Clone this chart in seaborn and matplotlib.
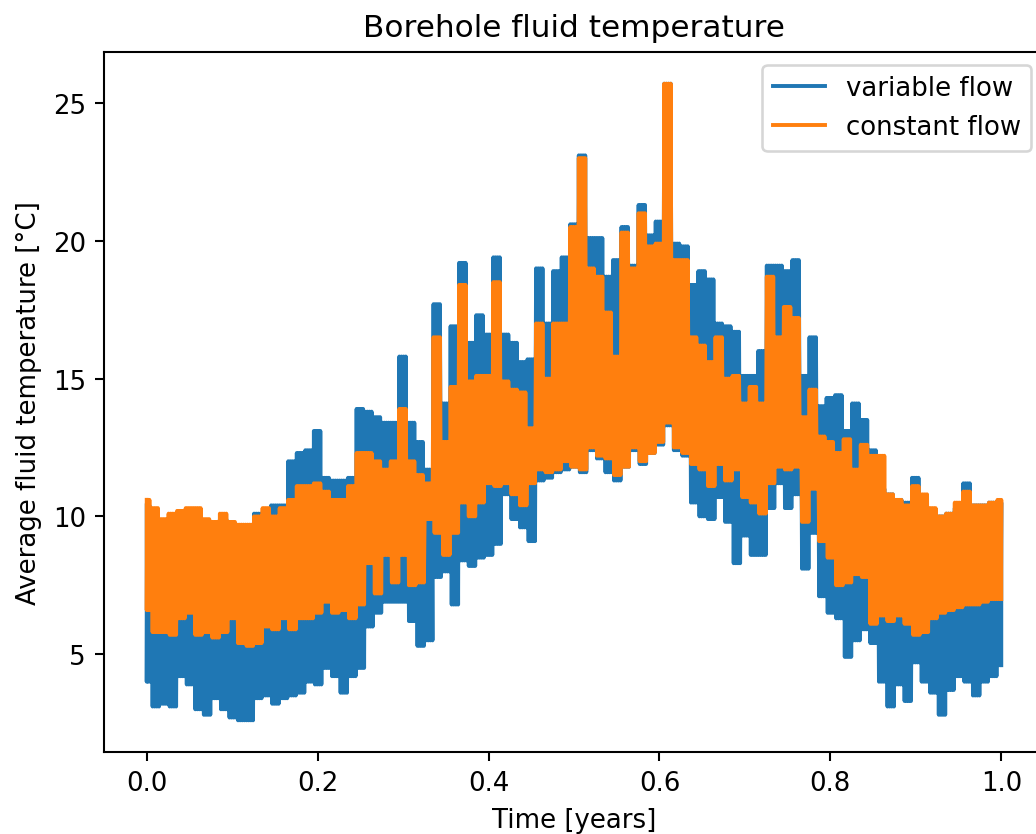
import numpy as np
import pandas as pd
import matplotlib
matplotlib.use("Agg")
import matplotlib.pyplot as plt
import seaborn as sns

# readings every 0.01 year: upper / lower envelope of the daily swing
time = np.round(np.arange(0, 1.001, 0.01), 2)
DAYS_PER_BIN = 4  # roughly 3.65 daily cycles fit in 0.01 year

variable_top = [
    10.4, 10.0, 9.6, 9.9, 9.9, 10.0, 10.0, 9.6, 9.6, 9.9,
    9.5, 9.4, 9.5, 10.1, 10.0, 10.4, 10.4, 12.0, 12.3, 12.4,
    13.1, 11.4, 11.3, 11.3, 11.4, 13.9, 13.8, 13.6, 13.4, 13.4,
    15.8, 13.4, 12.7, 11.7, 17.7, 14.1, 16.9, 19.2, 16.3, 17.3,
    16.6, 19.4, 16.6, 16.3, 15.6, 15.7, 19.0, 17.0, 18.9, 19.4,
    20.6, 23.1, 20.1, 20.1, 18.7, 19.3, 20.5, 19.1, 21.3, 20.2,
    20.7, 25.7, 19.9, 19.8, 18.4, 18.9, 18.6, 17.0, 16.9, 16.7,
    15.1, 15.1, 16.0, 19.1, 19.1, 18.9, 19.3, 15.1, 16.5, 14.0,
    14.3, 14.4, 13.1, 14.1, 13.5, 12.4, 11.0, 10.8, 10.6, 10.5,
    11.4, 10.4, 10.1, 10.0, 10.1, 10.3, 11.2, 10.4, 10.4, 10.5,
    10.5,
]
variable_bottom = [
    4.0, 3.1, 3.2, 3.1, 4.2, 3.9, 3.0, 2.8, 3.4, 3.0,
    2.7, 2.6, 2.6, 3.4, 3.5, 3.2, 3.4, 3.5, 3.6, 4.0,
    3.9, 4.5, 4.2, 3.6, 4.2, 4.5, 6.0, 6.5, 6.9, 6.9,
    6.9, 6.2, 5.3, 5.5, 7.8, 8.0, 6.8, 8.4, 8.2, 8.5,
    8.6, 9.0, 10.8, 9.9, 9.6, 9.1, 11.3, 11.4, 11.6, 11.7,
    11.8, 11.6, 12.4, 12.1, 11.6, 11.3, 11.8, 12.4, 11.9, 12.3,
    12.6, 13.3, 12.4, 12.2, 10.5, 10.0, 9.9, 10.7, 9.8, 8.3,
    9.3, 8.6, 8.6, 10.3, 11.2, 10.3, 10.8, 8.1, 9.4, 7.1,
    6.5, 6.3, 4.9, 5.5, 5.9, 5.4, 4.0, 3.1, 3.9, 3.3,
    4.7, 4.0, 3.6, 2.8, 3.7, 4.2, 4.0, 3.5, 4.0, 4.2,
    4.6,
]
constant_top = [
    10.6, 10.3, 9.9, 10.1, 10.2, 10.3, 10.3, 9.9, 9.8, 10.1,
    9.8, 9.7, 9.7, 10.0, 10.3, 10.0, 10.3, 10.6, 11.1, 11.1,
    11.2, 10.9, 10.6, 10.6, 11.1, 12.3, 12.3, 12.0, 11.7, 12.0,
    13.9, 12.0, 11.5, 11.2, 16.5, 12.7, 14.7, 18.4, 14.9, 15.1,
    15.1, 18.5, 14.9, 14.6, 14.5, 13.2, 17.0, 15.0, 17.0, 17.0,
    20.5, 23.0, 19.0, 18.7, 17.4, 15.8, 20.3, 19.0, 21.0, 19.8,
    19.9, 25.7, 19.3, 19.3, 16.5, 16.2, 15.6, 16.5, 15.0, 15.1,
    14.1, 14.7, 14.1, 18.7, 16.5, 17.6, 17.2, 13.6, 14.6, 12.9,
    12.7, 12.3, 12.8, 11.7, 12.6, 12.2, 12.2, 10.8, 10.6, 10.4,
    11.1, 10.8, 10.3, 10.0, 10.1, 10.5, 10.9, 10.4, 10.4, 10.5,
    10.6,
]
constant_bottom = [
    6.6, 5.8, 5.8, 5.7, 6.3, 6.5, 5.7, 5.8, 5.6, 5.8,
    6.3, 5.4, 5.3, 5.4, 6.0, 5.9, 6.3, 5.9, 6.3, 6.3,
    6.5, 6.9, 6.5, 6.6, 6.3, 6.8, 8.3, 7.2, 8.6, 7.6,
    8.6, 7.5, 7.6, 9.9, 9.4, 8.6, 9.4, 10.5, 10.0, 10.5,
    11.2, 11.1, 11.2, 10.8, 10.4, 11.2, 11.7, 11.6, 11.7, 12.0,
    11.8, 11.7, 12.5, 12.2, 12.1, 11.5, 11.8, 12.5, 12.0, 12.3,
    12.7, 13.4, 12.5, 12.3, 11.9, 11.7, 11.1, 11.9, 11.3, 11.7,
    10.7, 10.5, 10.1, 11.2, 11.8, 11.7, 11.8, 9.8, 11.0, 9.1,
    8.5, 7.5, 7.6, 7.9, 7.8, 6.1, 6.4, 6.2, 6.4, 6.1,
    5.7, 5.8, 6.3, 6.5, 6.6, 6.7, 6.8, 6.8, 6.9, 7.0,
    7.0,
]


def swing(top, bottom):
    # each 0.01-year bin holds a few daily cycles between its high and low
    n = DAYS_PER_BIN
    step = 0.01 / (2 * n)
    offsets = (np.arange(2 * n) - n + 0.5) * step
    x = (time[:, None] + offsets[None, :]).ravel().clip(0, 1)
    hi_lo = np.column_stack([top, bottom])
    y = np.tile(hi_lo, (1, n)).ravel()
    return pd.DataFrame({"t": x, "T": y})


df_var = swing(variable_top, variable_bottom)
df_const = swing(constant_top, constant_bottom)

dpi = 187
fig = plt.figure(figsize=(1036 / dpi, 835 / dpi), dpi=dpi)
ax = fig.add_axes([104 / 1036, 82 / 835, 940 / 1036, 700 / 835])

sns.lineplot(data=df_var, x="t", y="T", ax=ax, color="C0", label="variable flow",
             estimator=None, sort=False, lw=1.5)
sns.lineplot(data=df_const, x="t", y="T", ax=ax, color="C1", label="constant flow",
             estimator=None, sort=False, lw=1.5)

ax.set_xlim(-0.05, 1.05)
ax.set_ylim(1.45, 26.85)
ax.set_yticks([5, 10, 15, 20, 25])
ax.set_title("Borehole fluid temperature")
ax.set_xlabel("Time [years]")
ax.set_ylabel("Average fluid temperature [°C]")
ax.legend(loc="upper right")

fig.savefig("out.png", dpi=dpi)
